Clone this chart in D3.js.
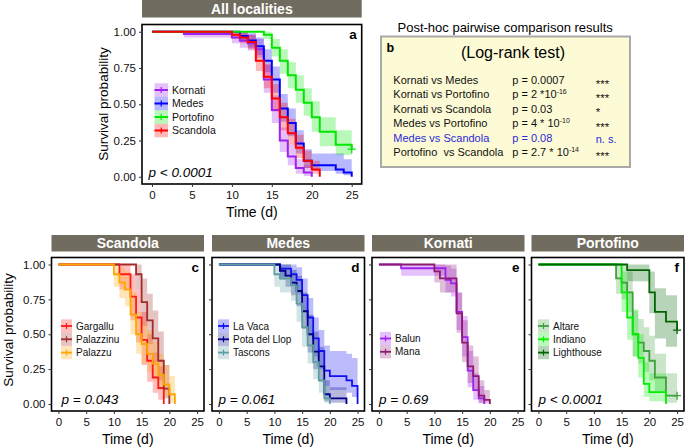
<!DOCTYPE html>
<html><head><meta charset="utf-8">
<script src="https://cdn.jsdelivr.net/npm/d3@7"></script>
<style>body{margin:0;background:#fff} text{font-family:"Liberation Sans",Arial,Helvetica,sans-serif}</style>
</head><body><script>
// ---------- DATA ----------
const timeTicks = [0,5,10,15,20,25];
const survTicks = [0,0.25,0.5,0.75,1];

// Panel a: all localities
const kornatiTime = [0,4,10,11,12,13,14,15,16,17,18,19,20];
const kornatiSurv = [1,0.985,0.96,0.94,0.92,0.88,0.67,0.46,0.25,0.14,0.06,0.03,0];
const kornatiLow  = [1,0.96,0.92,0.89,0.87,0.82,0.58,0.37,0.17,0.08,0.02,0.005,0];
const kornatiHigh = [1,1,1,0.99,0.98,0.95,0.77,0.56,0.34,0.22,0.12,0.08,0];

const medesTime = [0,11,12,13,14,15,16,17,18,19,20,23,24,25];
const medesSurv = [1,0.97,0.94,0.90,0.80,0.67,0.47,0.37,0.23,0.11,0.08,0.05,0.03,0];
const medesLow  = [1,0.93,0.89,0.84,0.72,0.58,0.38,0.28,0.16,0.06,0.04,0.02,0.01,0];
const medesHigh = [1,1,0.99,0.96,0.88,0.76,0.57,0.47,0.32,0.19,0.16,0.16,0.12,0];

const portofinoTime = [0,14,15,16,17,18,19,20,21,23,25];
const portofinoSurv = [1,0.98,0.89,0.80,0.70,0.60,0.51,0.41,0.31,0.22,0.19];
const portofinoLow  = [1,0.95,0.83,0.71,0.61,0.51,0.42,0.31,0.21,0.15,0.12];
const portofinoHigh = [1,1,0.95,0.88,0.79,0.70,0.61,0.52,0.41,0.32,0.29];
const portofinoCensor = [25];

const scandolaTime = [0,10,11,12,13,14,15,16,17,18,19,20,21];
const scandolaSurv = [1,0.98,0.96,0.93,0.80,0.69,0.54,0.41,0.30,0.20,0.11,0.05,0];
const scandolaLow  = [1,0.95,0.92,0.88,0.73,0.61,0.45,0.32,0.22,0.13,0.06,0.02,0];
const scandolaHigh = [1,1,1,0.98,0.87,0.78,0.64,0.51,0.40,0.29,0.18,0.11,0];

// Panel c: Scandola
const gargalluTime = [0,11,13,14,15,16,17,18,19];
const gargalluSurv = [1,0.93,0.77,0.62,0.46,0.31,0.19,0.115,0];
const gargalluLow  = [1,0.82,0.60,0.44,0.28,0.16,0.08,0.03,0];
const gargalluHigh = [1,1,0.93,0.82,0.66,0.50,0.37,0.27,0];

const palazzinuTime = [0,14,15,16,17,18,19,20];
const palazzinuSurv = [1,0.93,0.73,0.60,0.47,0.31,0.11,0];
const palazzinuLow  = [1,0.82,0.56,0.43,0.30,0.17,0.04,0];
const palazzinuHigh = [1,1,0.90,0.79,0.67,0.52,0.28,0];

const palazzuTime = [0,10,11,12,13,14,15,16,17,18,19,20,21];
const palazzuSurv = [1,0.93,0.87,0.82,0.64,0.50,0.43,0.36,0.29,0.21,0.14,0.07,0];
const palazzuLow  = [1,0.84,0.76,0.70,0.50,0.36,0.29,0.23,0.17,0.10,0.05,0.01,0];
const palazzuHigh = [1,1,0.98,0.95,0.80,0.66,0.59,0.53,0.45,0.36,0.28,0.20,0];

// Panel d: Medes
const laVacaTime = [0,11,13,14,15,16,17,18,19,20,23,24,25];
const laVacaSurv = [1,0.97,0.93,0.89,0.78,0.62,0.47,0.38,0.24,0.20,0.17,0.13,0];
const laVacaLow  = [1,0.91,0.85,0.79,0.66,0.49,0.34,0.25,0.13,0.10,0.08,0.05,0];
const laVacaHigh = [1,1,1,0.98,0.90,0.76,0.62,0.53,0.42,0.38,0.36,0.33,0];

const potaTime = [0,11,12,13,14,15,16,17,18,19,20,23];
const potaSurv = [1,0.955,0.92,0.87,0.81,0.665,0.50,0.375,0.27,0.07,0.04,0];
const potaLow  = [1,0.89,0.84,0.78,0.70,0.54,0.37,0.25,0.16,0.02,0.01,0];
const potaHigh = [1,1,1,0.96,0.92,0.80,0.64,0.52,0.41,0.17,0.12,0];

const tasconsTime = [0,10,11,13,14,15,16,17,18,19,20];
const tasconsSurv = [1,0.93,0.90,0.85,0.72,0.55,0.42,0.30,0.17,0.04,0];
const tasconsLow  = [1,0.84,0.80,0.74,0.59,0.41,0.29,0.18,0.08,0.01,0];
const tasconsHigh = [1,1,1,0.96,0.86,0.70,0.57,0.45,0.31,0.13,0];

// Panel e: Kornati
const balunTime = [0,4,12,13,14,15,16,17,18,19];
const balunSurv = [1,0.973,0.89,0.865,0.66,0.48,0.24,0.10,0.04,0];
const balunLow  = [1,0.92,0.80,0.77,0.53,0.34,0.12,0.03,0.005,0];
const balunHigh = [1,1,0.99,0.97,0.80,0.63,0.38,0.22,0.13,0];

const manaTime = [0,10,11,14,15,16,17,18,19,20];
const manaSurv = [1,0.95,0.90,0.65,0.44,0.27,0.20,0.06,0.03,0];
const manaLow  = [1,0.87,0.80,0.51,0.30,0.15,0.10,0.01,0.005,0];
const manaHigh = [1,1,1,0.80,0.60,0.42,0.34,0.17,0.10,0];

// Panel f: Portofino
const altareTime = [0,14,15,16,17,18,19,20,21,23];
const altareSurv = [1,0.90,0.87,0.80,0.50,0.44,0.38,0.31,0.19,0.06];
const altareLow  = [1,0.79,0.75,0.66,0.34,0.29,0.23,0.17,0.08,0.01];
const altareHigh = [1,1,1,0.95,0.67,0.61,0.55,0.49,0.36,0.22];
const altareCensor = [25];

const indianoTime = [0,15,16,17,18,19,20,23];
const indianoSurv = [1,0.80,0.62,0.50,0.33,0.145,0.085,0];
const indianoLow  = [1,0.66,0.46,0.34,0.19,0.05,0.02,0];
const indianoHigh = [1,0.95,0.80,0.68,0.50,0.30,0.22,0];

const lighthouseTime = [0,16,20,21,23,25];
const lighthouseSurv = [1,0.96,0.80,0.66,0.59,0.53];
const lighthouseLow  = [1,0.88,0.65,0.47,0.41,0.35];
const lighthouseHigh = [1,1,0.95,0.83,0.78,0.72];
const lighthouseCensor = [25];

// Panel b: pairwise comparisons
const pairNames  = ["Kornati vs Medes","Kornati vs Portofino","Kornati vs Scandola","Medes vs Portofino","Medes vs Scandola","Portofino  vs Scandola"];
const pairPBase  = ["p = 0.0007","p = 2 *10","p = 0.03","p = 4 * 10","p = 0.08","p = 2.7 * 10"];
const pairPExp   = ["","-16","","-10","","-14"];
const pairSig    = ["***","***","*","***","n. s.","***"];

// ---------- DRAWING ----------
const W=685,H=448;
const svg=d3.select("body").append("svg").attr("width",W).attr("height",H);

function grp(name,color,t,s,lo,hi,censor){return {name,color,t,s,lo,hi,censor:censor||[]};}

function panel(o){
  const x=d3.scaleLinear().domain([-1.25,26.25]).range([o.x,o.x+o.w]);
  const y=d3.scaleLinear().domain([-0.05,1.05]).range([o.y+o.h,o.y]);
  const g=svg.append("g");
  // header strip
  g.append("rect").attr("x",o.x).attr("y",o.hy).attr("width",o.w).attr("height",o.hh).attr("fill","#716c60");
  g.append("text").attr("x",o.x+o.w/2).attr("y",o.hy+o.hh/2+5).attr("text-anchor","middle")
    .attr("fill","#fff").attr("font-weight","bold").attr("font-size",14).text(o.title);
  g.append("rect").attr("x",o.x).attr("y",o.y).attr("width",o.w).attr("height",o.h).attr("fill","#fff");
  const area=d3.area().curve(d3.curveStepAfter).x(d=>x(d.t)).y0(d=>y(d.lo)).y1(d=>y(d.hi));
  const line=d3.line().curve(d3.curveStepAfter).x(d=>x(d.t)).y(d=>y(d.s));
  o.groups.forEach(gr=>{
    const pts=gr.t.map((t,i)=>({t,s:gr.s[i],lo:gr.lo[i],hi:gr.hi[i]}));
    const last=pts[pts.length-1];
    const cmax=d3.max(gr.censor);
    if(cmax!==undefined && cmax>last.t) pts.push({t:cmax,s:last.s,lo:last.lo,hi:last.hi});
    gr.pts=pts;
    g.append("path").attr("d",area(pts)).attr("fill",gr.color).attr("fill-opacity",0.28);
  });
  o.groups.forEach(gr=>{
    g.append("path").attr("d",line(gr.pts)).attr("fill","none").attr("stroke",gr.color)
      .attr("stroke-width",o.lw);
    gr.censor.forEach(c=>{
      const p=gr.pts.filter(d=>d.t<=c).pop();
      const cx=x(c), cy=y(p.s);
      g.append("path").attr("d",`M${cx-4},${cy}H${cx+4}M${cx},${cy-4}V${cy+4}`)
        .attr("stroke",gr.color).attr("stroke-width",1.3);
    });
  });
  // border
  g.append("rect").attr("x",o.x).attr("y",o.y).attr("width",o.w).attr("height",o.h)
    .attr("fill","none").attr("stroke","#000").attr("stroke-width",1.6);
  // axes
  const ya=g.append("g").attr("transform",`translate(${o.x},0)`)
    .call(d3.axisLeft(y).tickValues(survTicks).tickSize(3).tickPadding(3)
      .tickFormat(o.ylab?d3.format(".2f"):""));
  const xa=g.append("g").attr("transform",`translate(0,${o.y+o.h})`)
    .call(d3.axisBottom(x).tickValues(timeTicks).tickSize(3).tickPadding(4));
  [ya,xa].forEach(a=>{a.select(".domain").remove();
    a.selectAll("line").attr("stroke","#333");
    a.selectAll("text").attr("font-size",11.5).attr("fill","#111").attr("font-family","Liberation Sans, Arial, sans-serif");});
  g.append("text").attr("x",o.x+o.w/2).attr("y",o.y+o.h+33).attr("text-anchor","middle")
    .attr("font-size",14).text("Time (d)");
  if(o.ylab){
    g.append("text").attr("transform",`translate(${o.ytx},${o.yty}) rotate(-90)`)
      .attr("text-anchor","middle").attr("font-size",13.5).text("Survival probability");
  }
  // legend
  const L=o.legend;
  o.groups.forEach((gr,i)=>{
    const cy=L.y+i*L.kh;
    g.append("rect").attr("x",L.x).attr("y",cy-L.kh/2).attr("width",L.kw).attr("height",L.kh)
      .attr("fill",gr.color).attr("fill-opacity",0.28);
    g.append("line").attr("x1",L.x).attr("x2",L.x+L.kw).attr("y1",cy).attr("y2",cy)
      .attr("stroke",gr.color).attr("stroke-width",o.lw);
    g.append("line").attr("x1",L.x+L.kw/2).attr("x2",L.x+L.kw/2).attr("y1",cy-3).attr("y2",cy+3)
      .attr("stroke",gr.color).attr("stroke-width",1.2);
    g.append("text").attr("x",L.x+L.kw+4).attr("y",cy+3.6).attr("font-size",L.fs).attr("fill","#111").text(gr.name);
  });
  // p-value
  g.append("text").attr("x",o.px).attr("y",o.y+o.h-7).attr("font-size",13.5)
    .attr("font-style","italic").text(o.ptext);
  // panel letter
  g.append("text").attr("x",o.x+o.w-5).attr("y",o.y+14).attr("text-anchor","end")
    .attr("font-size",13.5).attr("font-weight","bold").text(o.letter);
}

panel({x:142,y:24.5,w:219.7,h:159.5,hy:0,hh:17.5,title:"All localities",ylab:true,ytx:108,yty:104,
  lw:2,letter:"a",ptext:"p < 0.0001",px:148.5,
  legend:{x:154.5,y:90,kw:13.5,kh:13.5,fs:10.5},
  groups:[grp("Kornati","#a020f0",kornatiTime,kornatiSurv,kornatiLow,kornatiHigh),
          grp("Medes","#0000ff",medesTime,medesSurv,medesLow,medesHigh),
          grp("Portofino","#00e600",portofinoTime,portofinoSurv,portofinoLow,portofinoHigh,portofinoCensor),
          grp("Scandola","#ff0000",scandolaTime,scandolaSurv,scandolaLow,scandolaHigh)]});

const by=257.5, bh=153.5, bw=152.5, hy=235, hh=16.5;
panel({x:51.5,y:by,w:bw,h:bh,hy,hh,title:"Scandola",ylab:true,ytx:13,yty:330,lw:1.8,letter:"c",
  ptext:"p = 0.043",px:61.5,legend:{x:61,y:326,kw:11,kh:13.3,fs:10},
  groups:[grp("Gargallu","#ff1a1a",gargalluTime,gargalluSurv,gargalluLow,gargalluHigh),
          grp("Palazzinu","#a52a2a",palazzinuTime,palazzinuSurv,palazzinuLow,palazzinuHigh),
          grp("Palazzu","#ffa500",palazzuTime,palazzuSurv,palazzuLow,palazzuHigh)]});
panel({x:212,y:by,w:bw,h:bh,hy,hh,title:"Medes",ylab:false,lw:1.8,letter:"d",
  ptext:"p = 0.061",px:218.5,legend:{x:218,y:326,kw:11,kh:13.3,fs:10},
  groups:[grp("La Vaca","#1010f5",laVacaTime,laVacaSurv,laVacaLow,laVacaHigh),
          grp("Pota del Llop","#00008b",potaTime,potaSurv,potaLow,potaHigh),
          grp("Tascons","#5f9ea0",tasconsTime,tasconsSurv,tasconsLow,tasconsHigh)]});
panel({x:372,y:by,w:bw,h:bh,hy,hh,title:"Kornati",ylab:false,lw:1.8,letter:"e",
  ptext:"p = 0.69",px:379,legend:{x:380,y:338.5,kw:11,kh:13.3,fs:10},
  groups:[grp("Balun","#a020f0",balunTime,balunSurv,balunLow,balunHigh),
          grp("Mana","#8e1a73",manaTime,manaSurv,manaLow,manaHigh)]});
panel({x:531.5,y:by,w:bw,h:bh,hy,hh,title:"Portofino",ylab:false,lw:1.8,letter:"f",
  ptext:"p < 0.0001",px:538.5,legend:{x:538,y:326,kw:11,kh:13.3,fs:10},
  groups:[grp("Altare","#3fa03f",altareTime,altareSurv,altareLow,altareHigh,altareCensor),
          grp("Indiano","#00f000",indianoTime,indianoSurv,indianoLow,indianoHigh),
          grp("Lighthouse","#006400",lighthouseTime,lighthouseSurv,lighthouseLow,lighthouseHigh,lighthouseCensor)]});

// ---------- Panel b ----------
const gb=svg.append("g");
gb.append("text").attr("x",397.5).attr("y",31.5).attr("font-size",13).text("Post-hoc pairwise comparison results");
gb.append("rect").attr("x",381).attr("y",36.5).attr("width",249).attr("height",130.5)
  .attr("fill","#fdfbd6").attr("stroke","#a9a9a9").attr("stroke-width",2);
gb.append("text").attr("x",386.5).attr("y",51.5).attr("font-size",12.5).attr("font-weight","bold").text("b");
gb.append("text").attr("x",513).attr("y",57.5).attr("text-anchor","middle").attr("font-size",16).text("(Log-rank test)");
const rowY=d3.scaleLinear().domain([0,5]).range([84,156]);
pairNames.forEach((n,i)=>{
  const col=(n==="Medes vs Scandola")?"#2a2ad8":"#111";
  const yy=rowY(i);
  gb.append("text").attr("x",393.3).attr("y",yy).attr("font-size",11).attr("fill",col)
    .style("white-space","pre").text(n);
  const t=gb.append("text").attr("x",512.3).attr("y",yy).attr("font-size",11).attr("fill",col);
  t.append("tspan").text(pairPBase[i]);
  if(pairPExp[i]) t.append("tspan").attr("dy",-4).attr("font-size",7).text(pairPExp[i]);
  const s=pairSig[i];
  if(s==="n. s.") gb.append("text").attr("x",595.7).attr("y",yy+1.5).attr("font-size",11).attr("fill",col).text(s);
  else gb.append("text").attr("x",595.7).attr("y",yy+3.5).attr("font-size",11.5).attr("fill",col).text(s);
});
</script></body></html>
